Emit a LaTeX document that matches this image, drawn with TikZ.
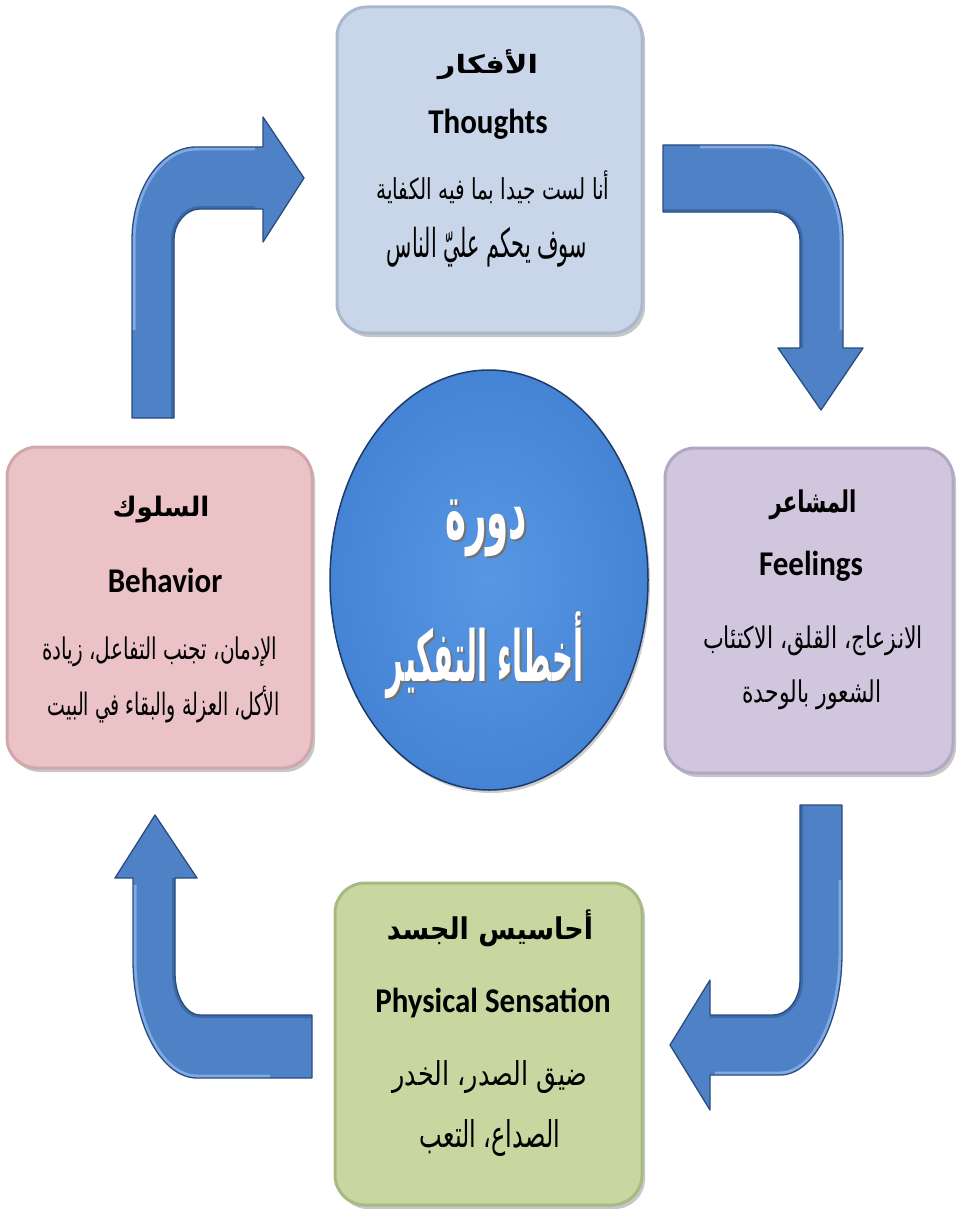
\documentclass[tikz,border=0pt]{standalone}
\usepackage{fontspec}
\usepackage{graphicx}
\setmainfont{Carlito}
\newfontfamily\arabicfont[Script=Arabic]{DejaVu Sans}
\TeXXeTstate=1
\usetikzlibrary{shapes.geometric}

% Arabic lines are fitted to a given width and total height (in pt)
\newcommand\arline[3]{\resizebox*{#1pt}{#2pt}{\arabicfont #3}}
\newcommand\arhead[3]{\resizebox*{#1pt}{#2pt}{\arabicfont\bfseries #3}}
\newcommand\enline[1]{\scalebox{1}[1.12]{\bfseries\fontsize{31}{31}\selectfont #1}}

\definecolor{thfill}{HTML}{C9D6EA}\definecolor{thedge}{HTML}{AAB8CE}
\definecolor{fefill}{HTML}{D0C7DF}\definecolor{feedge}{HTML}{B2A8C3}
\definecolor{befill}{HTML}{EBC3C6}\definecolor{beedge}{HTML}{D0A8AB}
\definecolor{phfill}{HTML}{C8D7A0}\definecolor{phedge}{HTML}{A8B982}
\definecolor{hubin}{HTML}{5797E4}\definecolor{hubout}{HTML}{4584D4}
\definecolor{hubedge}{HTML}{1E3A66}
\definecolor{arrfill}{HTML}{4E81C6}\definecolor{arredge}{HTML}{2A4C80}
\definecolor{arrhi}{HTML}{8DB6EA}\definecolor{arrlo}{HTML}{2F578F}

\tikzset{
  card/.style={rounded corners=30pt, line width=3pt,
    preaction={fill=black, opacity=.22, transform canvas={xshift=3pt,yshift=-4pt}}},
  txt/.style={inner sep=0pt, anchor=center},
  bentedge/.style={draw=arredge, line width=1.3pt, line join=round},
  hiband/.style={draw=arrhi, line width=7pt, opacity=.8},
  loband/.style={draw=arrlo, line width=6pt, opacity=.55},
  % outlines of the four bent arrows
  arrowA/.style={insert path={(132,418) -- (132,240) .. controls (132,189) and (161,147) .. (196,147)
    -- (263,147) -- (263,117) -- (304,178) -- (263,242) -- (263,209) -- (200,209)
    .. controls (186,209) and (174,223) .. (174,240) -- (174,418) -- cycle}},
  arrowB/.style={insert path={(663,145) -- (770,145) .. controls (810,145) and (843,188) .. (843,240)
    -- (843,348) -- (863,348) -- (821,410) -- (778,348) -- (800,348) -- (800,240)
    .. controls (800,225) and (788,212) .. (773,212) -- (663,212) -- cycle}},
  arrowC/.style={insert path={(800,805) -- (842,805) -- (842,953) .. controls (842,1020) and (814,1075) .. (780,1075)
    -- (710,1075) -- (710,1110) -- (670,1045) -- (710,980) -- (710,1015) -- (773,1015)
    .. controls (788,1015) and (800,999) .. (800,980) -- cycle}},
  arrowD/.style={insert path={(312,1015) -- (200,1015) .. controls (186,1015) and (175,996) .. (175,973)
    -- (175,878) -- (197,878) -- (155,815) -- (115,878) -- (133,878) -- (133,960)
    .. controls (133,1025) and (162,1078) .. (197,1078) -- (312,1078) -- cycle}},
}

\begin{document}
\begin{tikzpicture}[x=1pt,y=-1pt]
\useasboundingbox (0,0) rectangle (958,1209);
\fill[white] (0,0) rectangle (958,1209);

% ---- the four stages ----
\node[card, fill=thfill, draw=thedge, minimum width=305pt, minimum height=326pt] (thoughts) at (489.5,170) {};
\node[card, fill=fefill, draw=feedge, minimum width=288pt, minimum height=325pt] (feelings) at (809,610.5) {};
\node[card, fill=befill, draw=beedge, minimum width=305pt, minimum height=321pt] (behavior) at (159.5,607.5) {};
\node[card, fill=phfill, draw=phedge, minimum width=307pt, minimum height=322pt] (physical) at (488.5,1044) {};

% ---- centre ----
\node[ellipse, minimum width=318pt, minimum height=420pt, inner color=hubin, outer color=hubout,
      draw=hubedge, line width=1.5pt, preaction={fill=black, opacity=.2, transform canvas={xshift=2pt,yshift=-3pt}}] (hub) at (489,580) {};

% ---- bent arrows: fill, bevel bands, outline ----
\fill[arrfill, arrowA];
\begin{scope}
  \clip[arrowA];
  \path[hiband] (132,330) -- (132,240) .. controls (132,189) and (161,147) .. (196,147) -- (255,147);
  \path[loband] (255,209) -- (200,209) .. controls (186,209) and (174,223) .. (174,240) -- (174,418);
\end{scope}
\path[bentedge, arrowA];

\fill[arrfill, arrowB];
\begin{scope}
  \clip[arrowB];
  \path[hiband] (700,145) -- (770,145) .. controls (810,145) and (843,188) .. (843,240) -- (843,330);
  \path[loband] (663,212) -- (773,212) .. controls (788,212) and (800,225) .. (800,240) -- (800,348);
\end{scope}
\path[bentedge, arrowB];

\fill[arrfill, arrowC];
\begin{scope}
  \clip[arrowC];
  \path[hiband] (842,880) -- (842,953) .. controls (842,1020) and (814,1075) .. (780,1075) -- (715,1075);
  \path[loband] (800,805) -- (800,980) .. controls (800,999) and (788,1015) .. (773,1015) -- (710,1015);
\end{scope}
\path[bentedge, arrowC];

\fill[arrfill, arrowD];
\begin{scope}
  \clip[arrowD];
  \path[hiband] (133,885) -- (133,960) .. controls (133,1025) and (162,1078) .. (197,1078) -- (270,1078);
  \path[loband] (175,878) -- (175,973) .. controls (175,996) and (186,1015) .. (200,1015) -- (312,1015);
\end{scope}
\path[bentedge, arrowD];

% ---- texts: thoughts ----
\node[txt] (thH) at (488,65)  {\arhead{100}{30}{\beginR الأفكار\endR}};
\node[txt] (thE) at (488,124) {\enline{Thoughts}};
\node[txt] (th1) at (493,187) {\arline{233}{33}{\beginR أنا لست جيدا بما فيه الكفاية\endR}};
\node[txt] (th2) at (487,247) {\arline{200}{40}{\beginR سوف يحكم عليّ الناس\endR}};

% ---- texts: feelings ----
\node[txt] (feH) at (813,505) {\arhead{87}{30}{\beginR المشاعر\endR}};
\node[txt] (feE) at (811,566) {\enline{Feelings}};
\node[txt] (fe1) at (813,641) {\arline{220}{30}{\beginR الانزعاج، القلق، الاكتئاب\endR}};
\node[txt] (fe2) at (812,695) {\arline{139}{30}{\beginR الشعور بالوحدة\endR}};

% ---- texts: behaviour ----
\node[txt] (beH) at (161,510) {\arhead{97}{27}{\beginR السلوك\endR}};
\node[txt] (beE) at (165,580) {\enline{Behavior}};
\node[txt] (be1) at (160,652) {\arline{235}{30}{\beginR الإدمان، تجنب التفاعل، زيادة\endR}};
\node[txt] (be2) at (164,705) {\arline{232}{37}{\beginR الأكل، العزلة والبقاء في البيت\endR}};

% ---- texts: physical sensation ----
\node[txt] (phH) at (490,928)  {\arhead{206}{37}{\beginR أحاسيس الجسد\endR}};
\node[txt] (phE) at (493,1003) {\enline{Physical Sensation}};
\node[txt] (ph1) at (490,1077) {\arline{195}{33}{\beginR ضيق الصدر، الخدر\endR}};
\node[txt] (ph2) at (490,1138) {\arline{140}{37}{\beginR الصداع، التعب\endR}};

% ---- texts: centre, white with a soft dark shadow ----
\node[txt, text=black!55] (hub1s) at (488,530) {\arhead{82}{57}{\beginR دورة\endR}};
\node[txt, text=white]    (hub1)  at (486,528) {\arhead{82}{57}{\beginR دورة\endR}};
\node[txt, text=black!55] (hub2s) at (487,657) {\arhead{196}{87}{\beginR أخطاء التفكير\endR}};
\node[txt, text=white]    (hub2)  at (485,655) {\arhead{196}{87}{\beginR أخطاء التفكير\endR}};
\end{tikzpicture}
\end{document}
